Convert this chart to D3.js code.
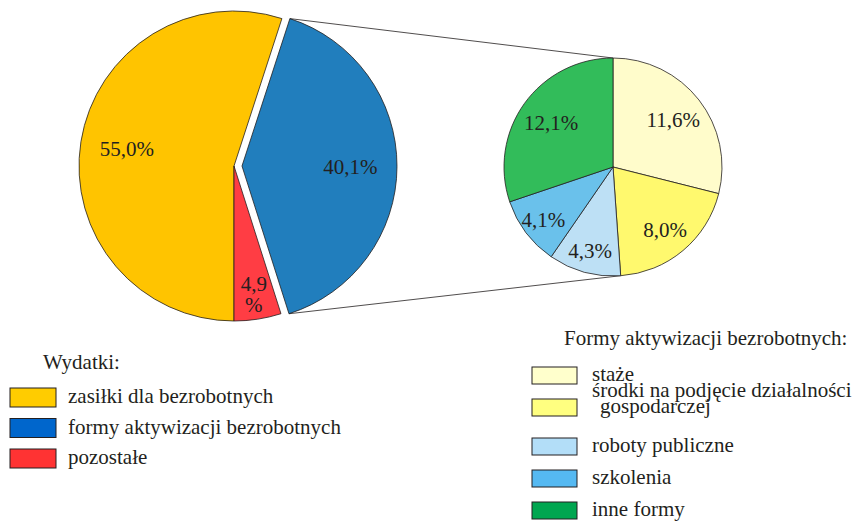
<!DOCTYPE html>
<html>
<head>
<meta charset="utf-8">
<script src="https://cdn.jsdelivr.net/npm/d3@7"></script>
<style>
  body { margin: 0; background: #fff; }
</style>
</head>
<body>
<svg id="chart"></svg>
<script>
// main pie: spending structure (%)
let mainLabels = ['zasiłki dla bezrobotnych', 'formy aktywizacji bezrobotnych', 'pozostałe'];
let mainValues = [55.0, 40.1, 4.9];
let mainColors = ['#ffc400', '#217ebd', '#ff3d44'];
let mainLegendColors = ['#ffcc00', '#0066cc', '#ff3333'];

// detail pie: forms of activation (% of total)
let subLabels = [['staże'], ['środki na podjęcie działalności', 'gospodarczej'], ['roboty publiczne'], ['szkolenia'], ['inne formy']];
let subValues = [11.6, 8.0, 4.3, 4.1, 12.1];
let subColors = ['#fffccb', '#fff96e', '#bde0f5', '#6ac1eb', '#32bc5a'];
let subLegendColors = ['#ffffcc', '#ffff80', '#b3def8', '#55b9f2', '#00a650'];

let width = 856;
let height = 521;
let font = '"Liberation Serif", "DejaVu Serif", "Times New Roman", serif';
let ink = '#231f20';

let main = { cx: 234, cy: 166, r: 155 };
let sub = { cx: 613, cy: 167, r: 109 };
let explodeIndex = 1;
let explode = 8;

let svg = d3.select('#chart').attr('width', width).attr('height', height);

let fmt = v => v.toFixed(1).replace('.', ',') + '%';

let labelRadius = (d, r) => {
  let deg = (d.endAngle - d.startAngle) * 180 / Math.PI;
  return r * Math.max(0.7, 0.86 - 0.0016 * deg);
};

let polar = (cx, cy, r, a) => [cx + r * Math.sin(a), cy - r * Math.cos(a)];

let addText = (g, x, y, s) => g.append('text').
attr('x', x).
attr('y', y).
attr('font-family', font).
attr('font-size', 21).
attr('fill', ink).
text(s);

// ---- main pie ----
let mainPie = d3.pie().sort(null).startAngle(Math.PI).endAngle(3 * Math.PI);
let mainArcs = mainPie(mainValues);
let mainArc = d3.arc().innerRadius(0).outerRadius(main.r);

let offsetOf = (d, i) => {
  if (i !== explodeIndex) return [0, 0];
  let mid = (d.startAngle + d.endAngle) / 2;
  return [explode * Math.sin(mid), -explode * Math.cos(mid)];
};

let gMain = svg.append('g').attr('transform', 'translate(' + main.cx + ',' + main.cy + ')');

gMain.selectAll('path').
data(mainArcs).
enter().
append('path').
attr('d', mainArc).
attr('transform', (d, i) => 'translate(' + offsetOf(d, i).join(',') + ')').
attr('fill', (d, i) => mainColors[i]).
attr('stroke', ink).
attr('stroke-width', 0.8);

mainArcs.forEach((d, i) => {
  let off = offsetOf(d, i);
  let mid = (d.startAngle + d.endAngle) / 2;
  let p = polar(off[0], off[1], labelRadius(d, main.r), mid);
  let txt = fmt(d.value);
  let t = addText(gMain, p[0], p[1], null).attr('text-anchor', 'middle');
  if ((d.endAngle - d.startAngle) < 0.4) {
    // narrow slice: number and percent sign on two lines
    t.attr('y', p[1] - 10);
    [txt.slice(0, -1), '%'].forEach((s, k) => {
      t.append('tspan').attr('x', p[0]).attr('dy', k === 0 ? '0.35em' : '1em').text(s);
    });
  } else {
    t.attr('dy', '0.35em').text(txt);
  }
});

// ---- detail pie ----
let subPie = d3.pie().sort(null);
let subArcs = subPie(subValues);
let subArc = d3.arc().innerRadius(0).outerRadius(sub.r);

// connector lines from the pulled-out slice to the detail pie
let ex = mainArcs[explodeIndex];
let exOff = offsetOf(ex, explodeIndex);
let a1 = polar(main.cx + exOff[0], main.cy + exOff[1], main.r, ex.startAngle);
let a2 = polar(main.cx + exOff[0], main.cy + exOff[1], main.r, ex.endAngle);
let b1 = polar(sub.cx, sub.cy, sub.r, subArcs[0].startAngle);
let b2 = polar(sub.cx, sub.cy, sub.r, subArcs[1].endAngle);

[[a1, b1], [a2, b2]].forEach(pair => {
  svg.append('line').
  attr('x1', pair[0][0]).attr('y1', pair[0][1]).
  attr('x2', pair[1][0]).attr('y2', pair[1][1]).
  attr('stroke', ink).attr('stroke-width', 0.8);
});

let gSub = svg.append('g').attr('transform', 'translate(' + sub.cx + ',' + sub.cy + ')');

gSub.selectAll('path').
data(subArcs).
enter().
append('path').
attr('d', subArc).
attr('fill', (d, i) => subColors[i]).
attr('stroke', ink).
attr('stroke-width', 0.8);

subArcs.forEach(d => {
  let p = polar(0, 0, labelRadius(d, sub.r), (d.startAngle + d.endAngle) / 2);
  addText(gSub, p[0], p[1], fmt(d.value)).attr('dy', '0.35em').attr('text-anchor', 'middle');
});

// ---- legend: Wydatki ----
let leg1 = svg.append('g');
addText(leg1, 43, 369, 'Wydatki:');

mainLabels.forEach((lab, i) => {
  let y = 388 + i * 30.5;
  leg1.append('rect').
  attr('x', 10).attr('y', y).attr('width', 46).attr('height', 19).
  attr('fill', mainLegendColors[i]).
  attr('stroke', ink).attr('stroke-width', 1);
  addText(leg1, 68, y + 15, lab);
});

// ---- legend: Formy aktywizacji ----
let leg2 = svg.append('g');
addText(leg2, 564, 345, 'Formy aktywizacji bezrobotnych:');

subLabels.forEach((lines, i) => {
  let y = 367 + i * 32 + (i >= 2 ? 7 : 0);
  leg2.append('rect').
  attr('x', 532).attr('y', y).attr('width', 45).attr('height', 17).
  attr('fill', subLegendColors[i]).
  attr('stroke', ink).attr('stroke-width', 1);
  let ty = lines.length > 1 ? y - 2 : y + 14;
  lines.forEach((s, k) => {
    addText(leg2, k === 0 ? 592 : 600, ty + k * 16, s);
  });
});
</script>
</body>
</html>
